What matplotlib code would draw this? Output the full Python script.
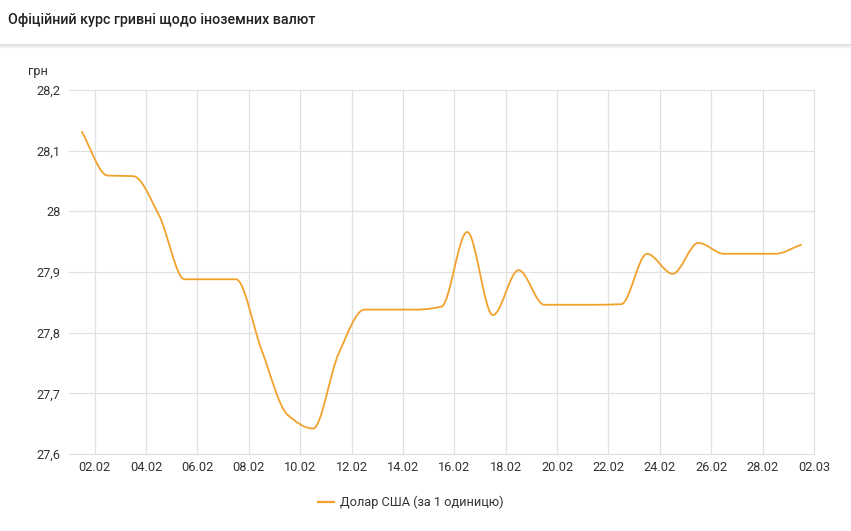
import numpy as np
import matplotlib
matplotlib.use("Agg")
import matplotlib.pyplot as plt
from matplotlib.path import Path
from matplotlib.patches import PathPatch
from matplotlib.lines import Line2D

# daily official rate, 01.02 .. 01.03
dates = ["01.02", "02.02", "03.02", "04.02", "05.02", "06.02", "07.02", "08.02",
         "09.02", "10.02", "11.02", "12.02", "13.02", "14.02", "15.02", "16.02",
         "17.02", "18.02", "19.02", "20.02", "21.02", "22.02", "23.02", "24.02",
         "25.02", "26.02", "27.02", "28.02", "01.03"]
usd = [28.131, 28.059, 28.058, 27.994, 27.888, 27.888, 27.888, 27.771,
       27.665, 27.642, 27.766, 27.838, 27.838, 27.838, 27.843, 27.966,
       27.829, 27.903, 27.846, 27.846, 27.846, 27.847, 27.930, 27.897,
       27.948, 27.930, 27.930, 27.930, 27.945]
tick_labels = ["02.02", "04.02", "06.02", "08.02", "10.02", "12.02", "14.02",
               "16.02", "18.02", "20.02", "22.02", "24.02", "26.02", "28.02", "02.03"]
y_ticks = [27.6, 27.7, 27.8, 27.9, 28.0, 28.1, 28.2]

plt.rcParams['font.family'] = ['Roboto', 'DejaVu Sans']
orange = '#F2A22C'
grid_c = '#e1e1e1'
txt_c = '#333333'

x = np.arange(len(usd)) + 0.5  # points at midday
y = np.array(usd)


def monotone_path(x, y):
    # Fritsch-Carlson monotone cubic, drawn as bezier segments
    n = len(x)
    h = np.diff(x)
    d = np.diff(y) / h
    m = np.zeros(n)
    m[0], m[-1] = d[0], d[-1]
    for k in range(1, n - 1):
        if d[k - 1] * d[k] <= 0:
            m[k] = 0
        else:
            m[k] = 2 / (1 / d[k - 1] + 1 / d[k])
    verts = [(x[0], y[0])]
    codes = [Path.MOVETO]
    for k in range(n - 1):
        verts += [(x[k] + h[k] / 3, y[k] + m[k] * h[k] / 3),
                  (x[k + 1] - h[k] / 3, y[k + 1] - m[k + 1] * h[k] / 3),
                  (x[k + 1], y[k + 1])]
        codes += [Path.CURVE4] * 3
    return Path(verts, codes)


fig = plt.figure(figsize=(8.51, 5.31), dpi=100)
ax = fig.add_axes([0.0811, 0.145, 0.8754, 0.6855])

ax.add_patch(PathPatch(monotone_path(x, y), facecolor='none', edgecolor=orange,
                       lw=1.3, capstyle='round', joinstyle='round', zorder=3))

ax.set_xlim(0, 29)
ax.set_ylim(27.6, 28.2)
ax.set_xticks(np.arange(1, 30, 2))
ax.set_xticklabels(tick_labels)
ax.set_yticks(y_ticks)
ax.set_yticklabels([("%.1f" % v).rstrip('0').rstrip('.').replace('.', ',') for v in y_ticks])
ax.tick_params(length=0, labelsize=9.2, colors=txt_c, pad=6)
ax.tick_params(axis='x', pad=5)
for s in ax.spines.values():
    s.set_visible(False)
ax.grid(True, color=grid_c, lw=0.9)
for g in ax.get_xgridlines() + ax.get_ygridlines():
    g.set_clip_on(False)

# title and header separator
fig.text(8 / 851, 1 - 20 / 531, "Офіційний курс гривні щодо іноземних валют",
         fontsize=10.3, fontweight='medium', color='#222222', va='center', ha='left')
fig.add_artist(Line2D([0, 1], [1 - 45 / 531, 1 - 45 / 531], color='#dcdcdc', lw=1.2))
fig.add_artist(Line2D([0, 1], [1 - 46.5 / 531, 1 - 46.5 / 531], color='#f0f0f0', lw=1.5))
fig.text(28 / 851, 1 - 71 / 531, "грн", fontsize=9.2, color=txt_c, va='center', ha='left')

# legend
fig.add_artist(Line2D([318 / 851, 334 / 851], [1 - 502 / 531] * 2, color=orange, lw=1.6))
fig.text(340 / 851, 1 - 502 / 531, "Долар США (за 1 одиницю)", fontsize=9.2,
         color=txt_c, va='center', ha='left')

fig.savefig("out.png", dpi=100)
